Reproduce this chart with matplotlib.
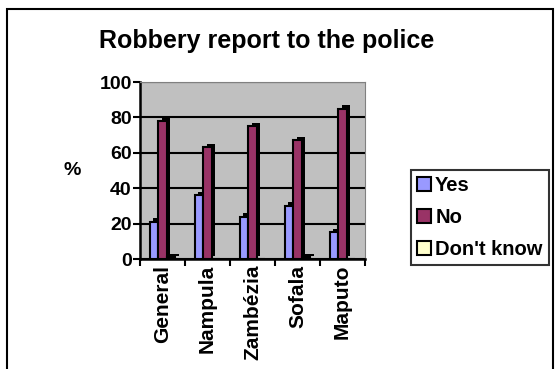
import matplotlib
matplotlib.use("Agg")
import matplotlib.pyplot as plt
import matplotlib.transforms as mtransforms
from matplotlib.patches import Rectangle
import numpy as np

plt.rcParams['font.family'] = ['Liberation Sans', 'DejaVu Sans']

# data
regions = ["General", "Nampula", "Zambézia", "Sofala", "Maputo"]
yes = [21, 36, 24, 30, 15]
no = [78, 63, 75, 67, 85]
dont_know = [1, 0, 0, 1, 0]
series_names = ["Yes", "No", "Don't know"]
colors = ["#9999FF", "#993366", "#FFFFCC"]

fig = plt.figure(figsize=(5.57, 3.69), dpi=100)
fig.patch.set_facecolor("white")

# outer frame (bottom edge cut off)
fig.add_artist(Rectangle((7 / 557, -0.1), 546 / 557, 1.1 - 9 / 369,
                         transform=fig.transFigure, fill=False,
                         edgecolor="black", linewidth=1.5))

ax = fig.add_axes([140 / 557, 1 - 259 / 369, 225 / 557, 177 / 369])
ax.set_facecolor("#C0C0C0")

x = np.arange(len(regions))
w = 0.19
# 3d-ish shadow
shadow = mtransforms.offset_copy(ax.transData, fig=fig, x=3.5, y=3.5, units='dots')
for i, vals in enumerate([yes, no, dont_know]):
    ax.bar(x + (i - 1) * w, vals, w, color="black", transform=shadow, zorder=2)
for i, (vals, c, name) in enumerate(zip([yes, no, dont_know], colors, series_names)):
    ax.bar(x + (i - 1) * w, vals, w, color=c, edgecolor="black",
           linewidth=1.5, label=name, zorder=3)

ax.set_ylim(0, 100)
ax.set_xlim(-0.5, len(regions) - 0.5)
ax.set_yticks(range(0, 101, 20))
ax.yaxis.grid(True, color="black", linewidth=1.5, zorder=1)
ax.set_axisbelow(True)
ax.set_xticks(x)
ax.set_xticklabels(regions, rotation=90, fontweight="bold", fontsize=15)
ax.tick_params(axis="x", length=0, pad=4)
ax.set_xticks(np.arange(-0.5, len(regions)), minor=True)
ax.tick_params(axis="x", which="minor", length=5, width=1.5, direction="out")
ax.tick_params(axis="y", length=5, width=1.5, direction="out", labelsize=14, pad=1)
for lab in ax.get_yticklabels():
    lab.set_fontweight("bold")
for s in ["left", "bottom"]:
    ax.spines[s].set_linewidth(1.8)
for s in ["top", "right"]:
    ax.spines[s].set_color("#808080")

fig.text(72 / 557, 1 - 170 / 369, "%", fontsize=14, fontweight="bold",
         ha="center", va="center")
fig.text(267 / 557, 1 - 41 / 369, "Robbery report to the police",
         fontsize=18, fontweight="bold", ha="center", va="center")

leg = fig.legend(loc="upper left", bbox_to_anchor=(411 / 557, 1 - 170 / 369),
                 frameon=True, fancybox=False, edgecolor="black",
                 prop={"weight": "bold", "size": 14.5}, handlelength=0.7,
                 handleheight=0.7, handletextpad=0.2, labelspacing=0.65,
                 borderpad=0.3, borderaxespad=0)
leg.get_frame().set_linewidth(1.5)

fig.savefig("out.png", dpi=100)
